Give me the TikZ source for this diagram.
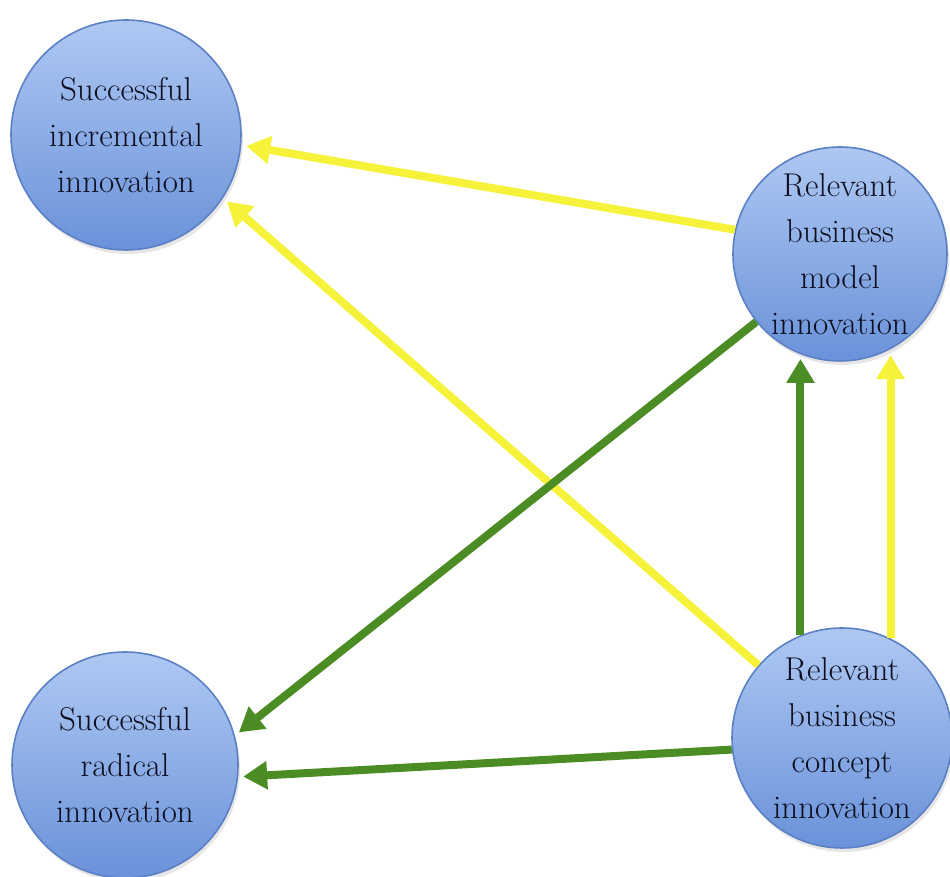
\documentclass[tikz,border=0pt]{standalone}
\usetikzlibrary{arrows.meta,shadows}
\definecolor{bubbletop}{RGB}{174,200,242}
\definecolor{bubblebot}{RGB}{106,146,218}
\definecolor{bubbleedge}{RGB}{92,128,196}
\definecolor{inktext}{RGB}{14,16,32}
\definecolor{linkyellow}{RGB}{246,242,58}
\definecolor{linkgreen}{RGB}{76,140,36}
\begin{document}
\begin{tikzpicture}[x=0.5pt,y=0.5pt,>={Triangle[width=13.5pt,length=12pt]},
		bubble/.style={circle, draw=bubbleedge, line width=0.8pt, top color=bubbletop, bottom color=bubblebot,
			align=center, inner sep=0pt, text=inktext, font=\fontsize{16.5}{23}\selectfont,
			drop shadow={opacity=0.2, shadow xshift=1pt, shadow yshift=-2pt}},
		yellowlink/.style={->, draw=linkyellow, fill=linkyellow, line width=4pt, shorten >=2.5pt},
		greenlink/.style={->, draw=linkgreen, fill=linkgreen, line width=4pt, shorten >=2.5pt}]
	\useasboundingbox (0,0) rectangle (950,877);
	% the four outcomes
	\node[bubble, minimum size=115pt] (inc) at (126,742) {Successful\\incremental\\innovation};
	\node[bubble, minimum size=113pt] (rad) at (125,112) {Successful\\radical\\innovation};
	\node[bubble, minimum size=107pt] (model) at (840,623) {Relevant\\business\\model\\innovation};
	\node[bubble, minimum size=110pt] (concept) at (842,139) {Relevant\\business\\concept\\innovation};
	% links between them
	\foreach \a/\b/\s in {model.167/inc.-5/yellowlink, concept.139/inc.-33/yellowlink,
		model.219/rad.15/greenlink, concept.186/rad.-6/greenlink}
	{
		\draw[\s] (\a) -- (\b);
	}
	% the two upright links
	\draw[greenlink] (concept.112) -- (concept.112 |- model.-112);
	\draw[yellowlink] (concept.64) -- (concept.64 |- model.-63);
\end{tikzpicture}
\end{document}
